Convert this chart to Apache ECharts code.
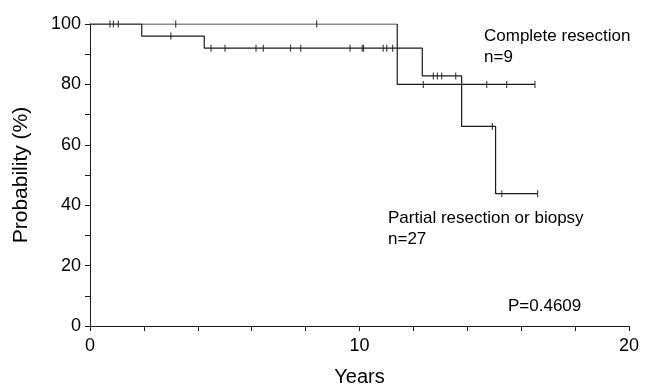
<!DOCTYPE html>
<html>
<head>
<meta charset="utf-8">
<script src="https://cdn.jsdelivr.net/npm/echarts@6/dist/echarts.min.js"></script>
<style>
  html, body { margin: 0; padding: 0; background: #fff; }
  #chart { width: 647px; height: 392px; }
</style>
</head>
<body>
<div id="chart"></div>
<script>
// Kaplan-Meier steps: [years, probability %]
const completeSteps = [[0, 100], [11.4, 80], [16.51, 80]]
const partialSteps = [[0, 100], [1.92, 96], [4.24, 92], [12.33, 82.8], [13.79, 66.1], [15.05, 43.8], [16.61, 43.8]]

// censored observations
const completeCensors = [[0.87, 100], [1.05, 100], [3.18, 100], [8.41, 100], [12.37, 80], [14.72, 80], [15.46, 80], [16.51, 80]]
const partialCensors = [
  [0.74, 100], [3.0, 96], [4.49, 92], [5.01, 92], [6.16, 92], [6.43, 92], [7.44, 92], [7.82, 92],
  [9.65, 92], [10.1, 92], [10.15, 92], [10.88, 92], [11.01, 92], [11.23, 92],
  [12.74, 82.8], [12.89, 82.8], [13.05, 82.8], [13.57, 82.8], [14.93, 66.1], [15.28, 43.8], [16.61, 43.8]
]

const font = 'Liberation Sans, Arial, sans-serif'
const ink = '#1a1a1a'

const chart = echarts.init(document.getElementById('chart'))

// censor marks: short vertical ticks over the curve
const tickMark = { symbol: 'rect', symbolSize: [1.2, 7], itemStyle: { color: ink } }

chart.setOption({
  animation: false,
  grid: { left: 90, right: 18, top: 24, bottom: 59 },
  xAxis: {
    type: 'value',
    min: 0,
    max: 20,
    interval: 2,
    name: 'Years',
    nameLocation: 'middle',
    nameGap: 41,
    nameTextStyle: { fontFamily: font, fontSize: 20, color: '#000' },
    axisLine: { lineStyle: { color: ink } },
    axisTick: { length: 5, lineStyle: { color: ink } },
    splitLine: { show: false },
    axisLabel: {
      fontFamily: font, fontSize: 18, color: '#000', margin: 11,
      formatter: (v) => (v % 10 === 0 ? String(v) : '')
    }
  },
  yAxis: {
    type: 'value',
    min: 0,
    max: 100,
    interval: 10,
    name: 'Probability (%)',
    nameLocation: 'middle',
    nameGap: 58,
    nameTextStyle: { fontFamily: font, fontSize: 21, color: '#000' },
    axisLine: { show: true, lineStyle: { color: ink } },
    axisTick: { show: true, length: 5, lineStyle: { color: ink } },
    splitLine: { show: false },
    axisLabel: {
      fontFamily: font, fontSize: 18, color: '#000', margin: 9,
      formatter: (v) => (v % 20 === 0 ? String(v) : '')
    }
  },
  series: [
    {
      name: 'Complete resection',
      type: 'line',
      step: 'end',
      showSymbol: false,
      lineStyle: { color: ink, width: 1.2 },
      data: completeSteps
    },
    {
      name: 'Partial resection or biopsy',
      type: 'line',
      step: 'end',
      showSymbol: false,
      lineStyle: { color: ink, width: 1.2 },
      data: partialSteps
    },
    Object.assign({ type: 'scatter', data: completeCensors }, tickMark),
    Object.assign({ type: 'scatter', data: partialCensors }, tickMark)
  ],
  graphic: [
    { type: 'text', left: 484, top: 26, style: { text: 'Complete resection\nn=9', font: '17px ' + font, fill: '#000', lineHeight: 21 } },
    { type: 'text', left: 388, top: 208, style: { text: 'Partial resection or biopsy\nn=27', font: '17px ' + font, fill: '#000', lineHeight: 21 } },
    { type: 'text', left: 508, top: 298, style: { text: 'P=0.4609', font: '17px ' + font, fill: '#000' } }
  ]
})
</script>
</body>
</html>
